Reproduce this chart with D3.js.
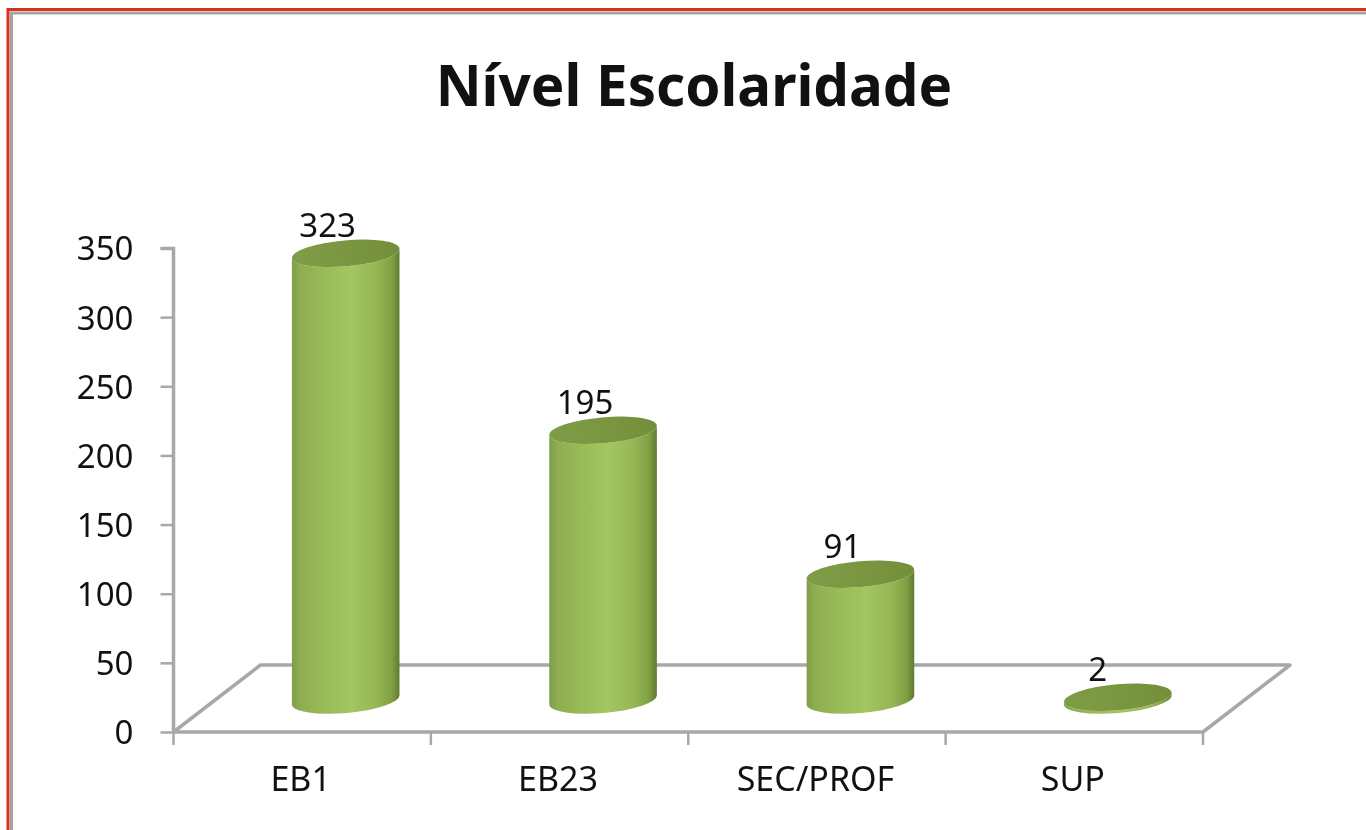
<!DOCTYPE html>
<html><head><meta charset="utf-8">
<style>html,body{margin:0;padding:0;background:#fff;overflow:hidden}svg{display:block;filter:blur(0.5px)}</style>
<script src="https://cdn.jsdelivr.net/npm/d3@7"></script></head><body>
<svg id="c" width="1366" height="830"></svg>
<script>
(function(){
const categories=["EB1","EB23","SEC/PROF","SUP"];
const values=[323,195,91,2];
const yTicks=[0,50,100,150,200,250,300,350];
const titleText="Nível Escolaridade";
const svg=d3.select("#c");
const font="'Noto Sans',sans-serif";
const defs=svg.append("defs");
const g=defs.append("linearGradient").attr("id","cyl");
[[0,"#7f9c48"],[0.08,"#8fae50"],[0.3,"#99bb58"],[0.55,"#a3c660"],[0.8,"#94b553"],[0.93,"#7f9f42"],[1,"#5f7a33"]]
 .forEach(([o,c])=>g.append("stop").attr("offset",o).attr("stop-color",c));
const topG=defs.append("linearGradient").attr("id","capg");
[[0,"#7f9c48"],[0.5,"#7a9640"],[1,"#748f3a"]].forEach(([o,c])=>topG.append("stop").attr("offset",o).attr("stop-color",c));

// frame
svg.append("path").attr("d","M8 830V9.5H1366").attr("fill","none").attr("stroke","#d9301c").attr("stroke-width",3);
svg.append("path").attr("d","M11.5 830V13H1366").attr("fill","none").attr("stroke","#a3a3a3").attr("stroke-width",3);

svg.append("text").attr("x",694).attr("y",106).attr("text-anchor","middle")
 .attr("font-family",font).attr("font-weight",700).attr("font-size",56.5).attr("fill","#111").text(titleText);

const x=d3.scaleBand().domain(categories).range([173.5,1203]);
const y=d3.scaleLinear().domain([0,350]).range([732,248]);
const depthX=87, depthY=67;
const grey="#a8a8a8";

// floor
const floorY=y(0);
svg.append("path").attr("fill","none").attr("stroke",grey).attr("stroke-width",3.5)
 .attr("stroke-linejoin","round")
 .attr("d",`M${x.range()[0]} ${floorY}L${x.range()[0]+depthX} ${floorY-depthY}H${x.range()[1]+depthX}L${x.range()[1]} ${floorY}Z`);

// axes
const yAxis=d3.axisLeft(y).tickValues(yTicks).tickSize(13).tickPadding(27);
const ya=svg.append("g").attr("transform",`translate(${x.range()[0]},0)`).call(yAxis);
ya.select(".domain").attr("stroke",grey).attr("stroke-width",3.5).attr("d","M-13 248.5H0V732");
ya.selectAll(".tick line").attr("stroke",grey).attr("stroke-width",2.5);
ya.selectAll("text").attr("font-family",font).attr("font-size",33).attr("fill","#111").attr("dy","0.36em");

const xAxis=d3.axisBottom(x).tickSize(0).tickPadding(35);
const xa=svg.append("g").attr("transform",`translate(-1.5,${floorY})`).call(xAxis);
xa.select(".domain").remove();
xa.selectAll("text").attr("font-family",font).attr("font-size",34).attr("fill","#111");
svg.append("g").selectAll("line").data([0,1,2,3,4]).join("line")
 .attr("x1",i=>x.range()[0]+i*x.step()).attr("x2",i=>x.range()[0]+i*x.step())
 .attr("y1",floorY).attr("y2",floorY+13).attr("stroke",grey).attr("stroke-width",2.5);

// cylinders
const rx=54, ry=13, rot=-5;
const dx=rx*Math.cos(rot*Math.PI/180), dyE=rx*Math.sin(rot*Math.PI/180);
const cxOf=c=>x(c)+x.bandwidth()/2+depthX/2;
const yBase=v=>y(v)-depthY/2+1.5;
const bars=svg.append("g").selectAll("g").data(categories.map((c,i)=>({c,v:values[i]}))).join("g");
bars.append("path").attr("fill","url(#cyl)").attr("d",d=>{
  const cx=cxOf(d.c), t=yBase(d.v), b=yBase(0);
  return `M${cx-dx} ${t-dyE}L${cx-dx} ${b-dyE}A${rx} ${ry} ${rot} 0 0 ${cx+dx} ${b+dyE}L${cx+dx} ${t+dyE}A${rx} ${ry} ${rot} 0 1 ${cx-dx} ${t-dyE}Z`;
});
bars.append("ellipse").attr("rx",rx).attr("ry",ry).attr("fill","url(#capg)")
 .attr("transform",d=>`translate(${cxOf(d.c)},${yBase(d.v)}) rotate(${rot})`);
bars.append("text").attr("x",d=>cxOf(d.c)-18+(d.v<10?-2:0)).attr("y",d=>yBase(d.v)-16.5)
 .attr("text-anchor","middle").attr("font-family",font).attr("font-size",33).attr("fill","#111")
 .text(d=>d.v);
})();
</script></body></html>
